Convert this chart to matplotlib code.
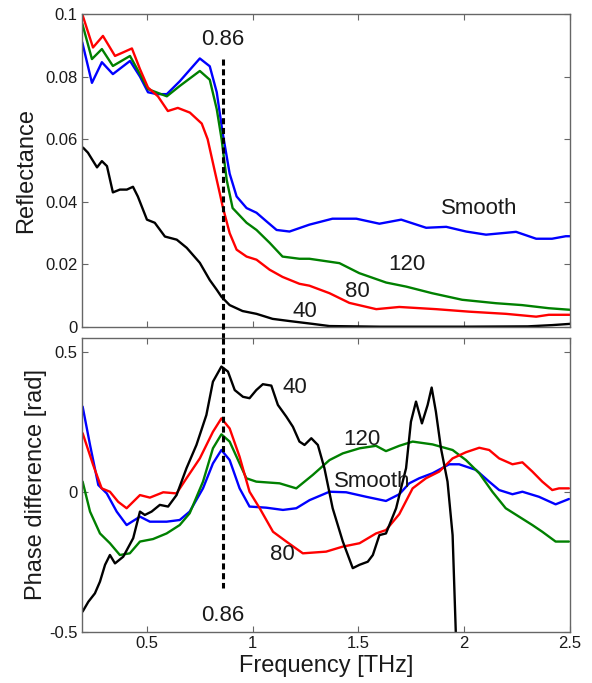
import matplotlib
matplotlib.use("Agg")
import matplotlib.pyplot as plt
import numpy as np

plt.rcParams['font.family'] = ['Liberation Sans', 'DejaVu Sans']
plt.rcParams['lines.solid_joinstyle'] = 'round'
plt.rcParams['lines.solid_capstyle'] = 'round'

# ---------------- Reflectance (top) ----------------
r_smooth_x = [0.194, 0.24, 0.287, 0.339, 0.42, 0.467, 0.505, 0.547, 0.594, 0.655, 0.75, 0.797, 0.83, 0.858,
              0.891, 0.924, 0.971, 1.018, 1.066, 1.113, 1.174, 1.268, 1.377, 1.49, 1.599, 1.702, 1.82, 1.915,
              2.009, 2.103, 2.245, 2.34, 2.415, 2.48, 2.5]
r_smooth_y = [0.091, 0.078, 0.0846, 0.0808, 0.085, 0.080, 0.075, 0.0744, 0.0744, 0.0785, 0.0858, 0.0833, 0.075,
              0.062, 0.049, 0.0417, 0.038, 0.0365, 0.0337, 0.031, 0.0305, 0.0327, 0.0346, 0.0346, 0.033, 0.0343,
              0.0317, 0.032, 0.0305, 0.0295, 0.0304, 0.0282, 0.0282, 0.029, 0.029]

r_120_x = [0.194, 0.24, 0.287, 0.339, 0.42, 0.467, 0.505, 0.594, 0.655, 0.75, 0.797, 0.83, 0.853, 0.877, 0.905,
           0.971, 1.018, 1.08, 1.141, 1.221, 1.268, 1.41, 1.504, 1.631, 1.726, 1.848, 1.99, 2.15, 2.273, 2.4, 2.5]
r_120_y = [0.097, 0.0856, 0.0888, 0.0834, 0.0866, 0.0808, 0.076, 0.0737, 0.077, 0.0818, 0.079, 0.0696, 0.060,
           0.047, 0.038, 0.0333, 0.031, 0.0269, 0.0225, 0.0218, 0.0218, 0.0204, 0.0172, 0.0142, 0.0129, 0.0108,
           0.0087, 0.0076, 0.007, 0.006, 0.0055]

r_80_x = [0.194, 0.245, 0.292, 0.349, 0.386, 0.429, 0.467, 0.505, 0.552, 0.599, 0.646, 0.703, 0.759, 0.787, 0.82,
          0.844, 0.858, 0.891, 0.924, 0.971, 1.018, 1.08, 1.141, 1.221, 1.268, 1.363, 1.457, 1.584, 1.693, 1.867,
          2.023, 2.198, 2.34, 2.4, 2.5]
r_80_y = [0.100, 0.0893, 0.093, 0.0866, 0.0877, 0.089, 0.0824, 0.0765, 0.0737, 0.069, 0.070, 0.0685, 0.065, 0.060,
          0.050, 0.0428, 0.0385, 0.030, 0.0247, 0.0225, 0.0215, 0.0183, 0.016, 0.0138, 0.0132, 0.0108, 0.0077,
          0.0057, 0.0064, 0.0057, 0.0049, 0.0042, 0.0033, 0.0039, 0.0039]

r_40_x = [0.198, 0.221, 0.264, 0.287, 0.311, 0.339, 0.372, 0.405, 0.434, 0.457, 0.5, 0.537, 0.585, 0.641, 0.688,
          0.75, 0.797, 0.83, 0.853, 0.891, 0.952, 1.018, 1.094, 1.174, 1.283, 1.363, 1.6, 2.0, 2.3, 2.415, 2.5]
r_40_y = [0.0573, 0.0557, 0.051, 0.053, 0.0514, 0.043, 0.0439, 0.0439, 0.0448, 0.0417, 0.0343, 0.0333, 0.0289,
          0.0279, 0.0253, 0.0205, 0.015, 0.0119, 0.0096, 0.007, 0.0051, 0.0042, 0.0026, 0.0019, 0.001, 0.0003,
          0.0001, 0.0001, 0.0002, 0.0006, 0.0010]

# ---------------- Phase difference (bottom) ----------------
p_smooth_x = [0.196, 0.231, 0.27, 0.31, 0.357, 0.404, 0.467, 0.514, 0.593, 0.655, 0.702, 0.765, 0.812, 0.852,
              0.891, 0.938, 0.985, 1.064, 1.143, 1.206, 1.269, 1.363, 1.442, 1.536, 1.63, 1.693, 1.74, 1.787,
              1.85, 1.929, 1.976, 2.055, 2.118, 2.165, 2.228, 2.275, 2.353, 2.432, 2.495]
p_smooth_y = [0.305, 0.168, 0.025, -0.005, -0.07, -0.118, -0.088, -0.106, -0.106, -0.1, -0.07, 0.013, 0.102, 0.15,
              0.114, 0.013, -0.052, -0.056, -0.064, -0.058, -0.029, 0.001, -0.001, -0.017, -0.032, -0.008, 0.031,
              0.049, 0.067, 0.099, 0.099, 0.079, 0.037, 0.007, -0.008, 0.001, -0.017, -0.044, -0.025]

p_80_x = [0.196, 0.246, 0.286, 0.325, 0.364, 0.404, 0.467, 0.514, 0.577, 0.64, 0.687, 0.75, 0.812, 0.852, 0.891,
          0.938, 0.985, 1.033, 1.096, 1.159, 1.237, 1.347, 1.426, 1.505, 1.583, 1.63, 1.693, 1.756, 1.819, 1.882,
          1.945, 2.008, 2.071, 2.118, 2.165, 2.228, 2.275, 2.322, 2.369, 2.416, 2.448, 2.495]
p_80_y = [0.21, 0.096, 0.013, 0.001, -0.035, -0.058, -0.011, -0.02, -0.001, -0.005, 0.049, 0.12, 0.215, 0.263,
          0.227, 0.126, 0.001, -0.058, -0.142, -0.177, -0.219, -0.213, -0.195, -0.183, -0.148, -0.136, -0.079,
          0.013, 0.049, 0.073, 0.12, 0.142, 0.158, 0.15, 0.12, 0.099, 0.106, 0.073, 0.037, 0.007, 0.013, 0.013]

p_120_x = [0.196, 0.231, 0.278, 0.325, 0.372, 0.419, 0.467, 0.529, 0.593, 0.655, 0.702, 0.765, 0.812, 0.852,
           0.891, 0.938, 0.97, 1.017, 1.127, 1.206, 1.284, 1.363, 1.426, 1.505, 1.583, 1.63, 1.693, 1.756, 1.85,
           1.945, 2.008, 2.071, 2.133, 2.196, 2.259, 2.322, 2.369, 2.432, 2.495]
p_120_y = [0.037, -0.07, -0.148, -0.183, -0.225, -0.219, -0.177, -0.168, -0.148, -0.118, -0.076, 0.037, 0.156,
           0.206, 0.18, 0.102, 0.049, 0.037, 0.031, 0.013, 0.061, 0.114, 0.138, 0.156, 0.165, 0.146, 0.165, 0.18,
           0.17, 0.15, 0.114, 0.067, 0.001, -0.058, -0.088, -0.118, -0.142, -0.177, -0.177]

p_40_x = [0.196, 0.223, 0.254, 0.278, 0.302, 0.325, 0.349, 0.388, 0.435, 0.467, 0.49, 0.522, 0.561, 0.6, 0.64,
          0.687, 0.734, 0.781, 0.812, 0.852, 0.883, 0.915, 0.954, 0.985, 1.017, 1.048, 1.088, 1.119, 1.159, 1.19,
          1.221, 1.245, 1.277, 1.308, 1.339, 1.378, 1.426, 1.473, 1.505, 1.544, 1.568, 1.599, 1.63, 1.678, 1.709,
          1.725, 1.748, 1.772, 1.8, 1.827, 1.846, 1.866, 1.89, 1.921, 1.945, 1.96, 1.97]
p_40_y = [-0.427, -0.392, -0.362, -0.32, -0.26, -0.225, -0.255, -0.231, -0.165, -0.07, -0.082, -0.07, -0.046,
          -0.052, -0.011, 0.085, 0.168, 0.275, 0.394, 0.448, 0.43, 0.364, 0.34, 0.335, 0.364, 0.385, 0.38, 0.311,
          0.269, 0.233, 0.18, 0.168, 0.192, 0.168, 0.085, -0.058, -0.177, -0.272, -0.26, -0.249, -0.225, -0.154,
          -0.148, -0.058, 0.037, 0.085, 0.251, 0.323, 0.245, 0.311, 0.373, 0.287, 0.156, 0.037, -0.154, -0.499,
          -0.6]

marker_freq = 0.86
x_ticks = [0.5, 1, 1.5, 2, 2.5]
x_ticklabels = ['0.5', '1', '1.5', '2', '2.5']
top_yticks = [0, 0.02, 0.04, 0.06, 0.08, 0.1]
top_yticklabels = ['0', '0.02', '0.04', '0.06', '0.08', '0.1']
bot_yticks = [-0.5, 0, 0.5]
bot_yticklabels = ['-0.5', '0', '0.5']

BLUE = (0, 0, 1)
GREEN = (0, 0.5, 0)
RED = (1, 0, 0)
BLACK = (0, 0, 0)
LW = 1.7
SPINE = '0.4'
TXT = '0.1'

fig = plt.figure(figsize=(5.92, 6.83), dpi=100)
ax1 = fig.add_axes([82 / 592, 1 - 327 / 683, 488 / 592, 313 / 683])
ax2 = fig.add_axes([82 / 592, 1 - 632 / 683, 488 / 592, 294 / 683])

xlim = (0.193, 2.5)


def style(ax):
    for s in ax.spines.values():
        s.set_color(SPINE)
        s.set_linewidth(1.0)
    ax.tick_params(direction='in', length=4, width=0.8, color=SPINE, top=True, right=True,
                   labelsize=12, labelcolor=TXT, pad=3)
    ax.set_xlim(*xlim)
    ax.set_xticks(x_ticks)


# top
ax1.plot(r_smooth_x, r_smooth_y, color=BLUE, lw=LW)
ax1.plot(r_120_x, r_120_y, color=GREEN, lw=LW)
ax1.plot(r_80_x, r_80_y, color=RED, lw=LW)
ax1.plot(r_40_x, r_40_y, color=BLACK, lw=LW)
ax1.plot([marker_freq, marker_freq], [0.0856, -0.0036], color='k', lw=2.2,
         linestyle=(0, (2, 1.2)), clip_on=False, zorder=5)
style(ax1)
ax1.set_ylim(0, 0.1)
ax1.set_yticks(top_yticks)
ax1.set_yticklabels(top_yticklabels)
ax1.set_xticklabels([])
ax1.set_ylabel('Reflectance', fontsize=17, color=TXT, labelpad=6)
ax1.text(marker_freq, 0.0918, '0.86', fontsize=16, ha='center', va='center', color=TXT)
ax1.text(2.07, 0.0377, 'Smooth', fontsize=16, ha='center', va='center', color=TXT)
ax1.text(1.73, 0.0199, '120', fontsize=16, ha='center', va='center', color=TXT)
ax1.text(1.495, 0.0112, '80', fontsize=16, ha='center', va='center', color=TXT)
ax1.text(1.245, 0.0048, '40', fontsize=16, ha='center', va='center', color=TXT)

# bottom
ax2.plot(p_smooth_x, p_smooth_y, color=BLUE, lw=LW)
ax2.plot(p_120_x, p_120_y, color=GREEN, lw=LW)
ax2.plot(p_80_x, p_80_y, color=RED, lw=LW)
ax2.plot(p_40_x, p_40_y, color=BLACK, lw=LW)
ax2.plot([marker_freq, marker_freq], [0.55, -0.343], color='k', lw=2.2,
         linestyle=(0, (2, 1.2)), zorder=5)
style(ax2)
ax2.set_ylim(-0.5, 0.55)
ax2.set_yticks(bot_yticks)
ax2.set_yticklabels(bot_yticklabels)
ax2.set_xticklabels(x_ticklabels)
ax2.set_ylabel('Phase difference [rad]', fontsize=17, color=TXT, labelpad=2)
ax2.set_xlabel('Frequency [THz]', fontsize=17, color=TXT, labelpad=3)
ax2.text(marker_freq, -0.44, '0.86', fontsize=16, ha='center', va='center', color=TXT)
ax2.text(1.198, 0.375, '40', fontsize=16, ha='center', va='center', color=TXT)
ax2.text(1.514, 0.186, '120', fontsize=16, ha='center', va='center', color=TXT)
ax2.text(1.566, 0.036, 'Smooth', fontsize=16, ha='center', va='center', color=TXT)
ax2.text(1.141, -0.225, '80', fontsize=16, ha='center', va='center', color=TXT)

fig.savefig('out.png', dpi=100)
